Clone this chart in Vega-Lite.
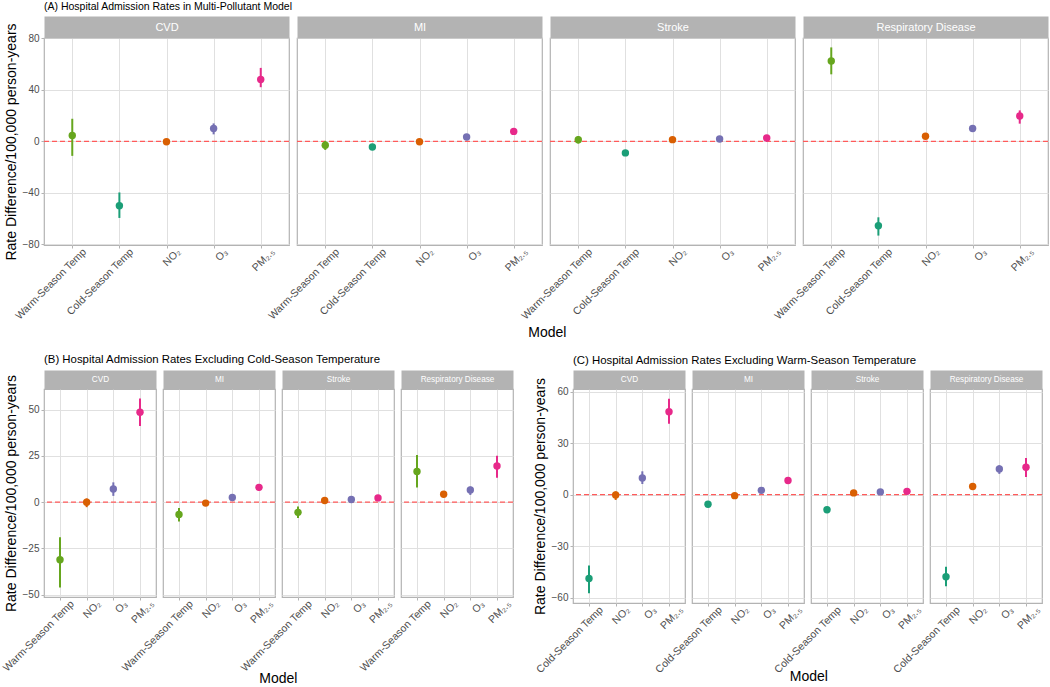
{
"$schema": "https://vega.github.io/schema/vega-lite/v6.json",
"padding": {"left": 0, "right": 2, "top": 1, "bottom": 0},
"background": "white",
"datasets": {
"rates": [
{"sec":"A","outcome":"CVD","model":"Warm-Season Temp","est":4.6,"lo":-11.3,"hi":17.5},
{"sec":"A","outcome":"CVD","model":"Cold-Season Temp","est":-50,"lo":-59.5,"hi":-39.7},
{"sec":"A","outcome":"CVD","model":"NO₂","est":-0.4,"lo":-2.5,"hi":1.7},
{"sec":"A","outcome":"CVD","model":"O₃","est":10,"lo":5.4,"hi":13.9},
{"sec":"A","outcome":"CVD","model":"PM₂.₅","est":48,"lo":42,"hi":57},
{"sec":"A","outcome":"MI","model":"Warm-Season Temp","est":-3.1,"lo":-6.7,"hi":0.3},
{"sec":"A","outcome":"MI","model":"Cold-Season Temp","est":-4.4,"lo":-5.8,"hi":-3.0},
{"sec":"A","outcome":"MI","model":"NO₂","est":-0.3,"lo":-1.5,"hi":0.9},
{"sec":"A","outcome":"MI","model":"O₃","est":3.4,"lo":1.8,"hi":5.0},
{"sec":"A","outcome":"MI","model":"PM₂.₅","est":7.7,"lo":6.2,"hi":9.2},
{"sec":"A","outcome":"Stroke","model":"Warm-Season Temp","est":1.3,"lo":-1.8,"hi":4.1},
{"sec":"A","outcome":"Stroke","model":"Cold-Season Temp","est":-9.0,"lo":-10.3,"hi":-7.7},
{"sec":"A","outcome":"Stroke","model":"NO₂","est":1.3,"lo":0.2,"hi":2.4},
{"sec":"A","outcome":"Stroke","model":"O₃","est":1.8,"lo":0.6,"hi":3.0},
{"sec":"A","outcome":"Stroke","model":"PM₂.₅","est":2.6,"lo":1.2,"hi":4.0},
{"sec":"A","outcome":"Respiratory Disease","model":"Warm-Season Temp","est":62.4,"lo":52,"hi":72.9},
{"sec":"A","outcome":"Respiratory Disease","model":"Cold-Season Temp","est":-65.5,"lo":-73.2,"hi":-59},
{"sec":"A","outcome":"Respiratory Disease","model":"NO₂","est":3.9,"lo":2.4,"hi":5.4},
{"sec":"A","outcome":"Respiratory Disease","model":"O₃","est":10,"lo":8.5,"hi":11.5},
{"sec":"A","outcome":"Respiratory Disease","model":"PM₂.₅","est":19.6,"lo":13.7,"hi":24},
{"sec":"B","outcome":"CVD","model":"Warm-Season Temp","est":-31.1,"lo":-46.1,"hi":-18.9},
{"sec":"B","outcome":"CVD","model":"NO₂","est":0,"lo":-2.7,"hi":2},
{"sec":"B","outcome":"CVD","model":"O₃","est":7.1,"lo":3.4,"hi":10.7},
{"sec":"B","outcome":"CVD","model":"PM₂.₅","est":48.6,"lo":41.1,"hi":56},
{"sec":"B","outcome":"MI","model":"Warm-Season Temp","est":-6.6,"lo":-10.4,"hi":-3.2},
{"sec":"B","outcome":"MI","model":"NO₂","est":-0.5,"lo":-1.8,"hi":0.8},
{"sec":"B","outcome":"MI","model":"O₃","est":2.5,"lo":1.2,"hi":3.8},
{"sec":"B","outcome":"MI","model":"PM₂.₅","est":8,"lo":6.3,"hi":9.6},
{"sec":"B","outcome":"Stroke","model":"Warm-Season Temp","est":-5.5,"lo":-8.6,"hi":-2.3},
{"sec":"B","outcome":"Stroke","model":"NO₂","est":0.9,"lo":-0.3,"hi":2.1},
{"sec":"B","outcome":"Stroke","model":"O₃","est":1.4,"lo":0.3,"hi":2.5},
{"sec":"B","outcome":"Stroke","model":"PM₂.₅","est":2.3,"lo":1.0,"hi":3.6},
{"sec":"B","outcome":"Respiratory Disease","model":"Warm-Season Temp","est":16.6,"lo":7.9,"hi":25.4},
{"sec":"B","outcome":"Respiratory Disease","model":"NO₂","est":4.3,"lo":3.0,"hi":5.6},
{"sec":"B","outcome":"Respiratory Disease","model":"O₃","est":6.6,"lo":3.9,"hi":8.4},
{"sec":"B","outcome":"Respiratory Disease","model":"PM₂.₅","est":19.5,"lo":13.2,"hi":25},
{"sec":"C","outcome":"CVD","model":"Cold-Season Temp","est":-48.9,"lo":-57.5,"hi":-41.3},
{"sec":"C","outcome":"CVD","model":"NO₂","est":-0.2,"lo":-3.1,"hi":1.9},
{"sec":"C","outcome":"CVD","model":"O₃","est":9.7,"lo":6.2,"hi":13.6},
{"sec":"C","outcome":"CVD","model":"PM₂.₅","est":48.3,"lo":41.3,"hi":55.9},
{"sec":"C","outcome":"MI","model":"Cold-Season Temp","est":-5.6,"lo":-7.0,"hi":-4.2},
{"sec":"C","outcome":"MI","model":"NO₂","est":-0.6,"lo":-1.8,"hi":0.6},
{"sec":"C","outcome":"MI","model":"O₃","est":2.5,"lo":1.2,"hi":3.8},
{"sec":"C","outcome":"MI","model":"PM₂.₅","est":8.2,"lo":6.9,"hi":9.5},
{"sec":"C","outcome":"Stroke","model":"Cold-Season Temp","est":-8.8,"lo":-10.2,"hi":-7.4},
{"sec":"C","outcome":"Stroke","model":"NO₂","est":1.0,"lo":-0.2,"hi":2.2},
{"sec":"C","outcome":"Stroke","model":"O₃","est":1.6,"lo":0.4,"hi":2.8},
{"sec":"C","outcome":"Stroke","model":"PM₂.₅","est":1.9,"lo":0.5,"hi":3.3},
{"sec":"C","outcome":"Respiratory Disease","model":"Cold-Season Temp","est":-47.9,"lo":-53.4,"hi":-42.1},
{"sec":"C","outcome":"Respiratory Disease","model":"NO₂","est":4.7,"lo":3.3,"hi":6.1},
{"sec":"C","outcome":"Respiratory Disease","model":"O₃","est":15,"lo":12.1,"hi":17.1},
{"sec":"C","outcome":"Respiratory Disease","model":"PM₂.₅","est":16,"lo":10.3,"hi":21.4}
],
"ref": [{"ref":0}]
},
"vconcat": [
{
"title": {"text": "(A) Hospital Admission Rates in Multi-Pollutant Model", "fontSize": 10.5, "offset": 8},
"spacing": 0,
"vconcat": [{
"title": {"text": "Model", "orient": "bottom", "anchor": "middle", "frame": "bounds", "dx": 21, "fontSize": 14, "offset": 4},
"spacing": 8,
"bounds": "flush",
"hconcat": [
{"width": 245, "height": 207, "resolve": {"axis": {"x": "independent"}}, "layer": [
{"data": {"name": "ref"}, "mark": {"type": "rule", "color": "#ff5a5a", "strokeDash": [5, 3], "strokeWidth": 1.3}, "encoding": {"y": {"field": "ref", "type": "quantitative", "scale": {"domain": [-80.5, 80.2], "nice": false, "zero": false}, "axis": {"title": "Rate Difference/100,000 person-years", "values": [-80,-60,-40,-20,0,20,40,60,80], "labelExpr": "datum.value % 40 === 0 ? datum.label : ''", "tickOpacity": {"condition": {"test": "datum.value % 40 === 0", "value": 1}, "value": 0}, "gridWidth": {"condition": {"test": "datum.value % 40 === 0", "value": 1}, "value": 0.6}}}}},
{"data": {"name": "rates"}, "transform": [{"filter": "datum.sec === 'A' && datum.outcome === 'CVD'"}], "mark": {"type": "rule", "strokeWidth": 2}, "encoding": {
"x": {"field": "model", "type": "nominal", "scale": {"type": "point", "domain": ["Warm-Season Temp","Cold-Season Temp","NO₂","O₃","PM₂.₅"], "padding": 0.6}, "axis": {"title": null, "labelAngle": -45, "labelAlign": "right", "labelBaseline": "middle", "labelOffset": 12, "labelFontSize": 10.5, "grid": true}},
"y": {"field": "lo", "type": "quantitative", "scale": {"domain": [-80.5, 80.2], "nice": false, "zero": false}},
"y2": {"field": "hi"},
"color": {"field": "model", "type": "nominal", "scale": {"domain": ["Warm-Season Temp","Cold-Season Temp","NO₂","O₃","PM₂.₅"], "range": ["#66a61e","#1b9e77","#d95f02","#7570b3","#e7298a"]}, "legend": null}}},
{"data": {"name": "rates"}, "transform": [{"filter": "datum.sec === 'A' && datum.outcome === 'CVD'"}], "mark": {"type": "point", "filled": true, "size": 55, "opacity": 1}, "encoding": {
"x": {"field": "model", "type": "nominal", "axis": {"orient": "top", "title": "CVD", "labels": false, "ticks": false, "grid": false, "domain": true, "domainColor": "#b3b3b3", "domainWidth": 22, "domainCap": "butt", "offset": 11, "titleColor": "white", "titleFontSize": 11, "titleBaseline": "middle", "titleY": 0}},
"y": {"field": "est", "type": "quantitative"},
"color": {"field": "model", "type": "nominal", "legend": null}}}
]},
{"width": 245, "height": 207, "resolve": {"axis": {"x": "independent"}}, "layer": [
{"data": {"name": "ref"}, "mark": {"type": "rule", "color": "#ff5a5a", "strokeDash": [5, 3], "strokeWidth": 1.3}, "encoding": {"y": {"field": "ref", "type": "quantitative", "scale": {"domain": [-80.5, 80.2], "nice": false, "zero": false}, "axis": {"title": null, "labels": false, "ticks": false, "values": [-80,-60,-40,-20,0,20,40,60,80], "gridWidth": {"condition": {"test": "datum.value % 40 === 0", "value": 1}, "value": 0.6}}}}},
{"data": {"name": "rates"}, "transform": [{"filter": "datum.sec === 'A' && datum.outcome === 'MI'"}], "mark": {"type": "rule", "strokeWidth": 2}, "encoding": {
"x": {"field": "model", "type": "nominal", "scale": {"type": "point", "domain": ["Warm-Season Temp","Cold-Season Temp","NO₂","O₃","PM₂.₅"], "padding": 0.6}, "axis": {"title": null, "labelAngle": -45, "labelAlign": "right", "labelBaseline": "middle", "labelOffset": 12, "labelFontSize": 10.5, "grid": true}},
"y": {"field": "lo", "type": "quantitative", "scale": {"domain": [-80.5, 80.2], "nice": false, "zero": false}},
"y2": {"field": "hi"},
"color": {"field": "model", "type": "nominal", "scale": {"domain": ["Warm-Season Temp","Cold-Season Temp","NO₂","O₃","PM₂.₅"], "range": ["#66a61e","#1b9e77","#d95f02","#7570b3","#e7298a"]}, "legend": null}}},
{"data": {"name": "rates"}, "transform": [{"filter": "datum.sec === 'A' && datum.outcome === 'MI'"}], "mark": {"type": "point", "filled": true, "size": 55, "opacity": 1}, "encoding": {
"x": {"field": "model", "type": "nominal", "axis": {"orient": "top", "title": "MI", "labels": false, "ticks": false, "grid": false, "domain": true, "domainColor": "#b3b3b3", "domainWidth": 22, "domainCap": "butt", "offset": 11, "titleColor": "white", "titleFontSize": 11, "titleBaseline": "middle", "titleY": 0}},
"y": {"field": "est", "type": "quantitative"},
"color": {"field": "model", "type": "nominal", "legend": null}}}
]},
{"width": 245, "height": 207, "resolve": {"axis": {"x": "independent"}}, "layer": [
{"data": {"name": "ref"}, "mark": {"type": "rule", "color": "#ff5a5a", "strokeDash": [5, 3], "strokeWidth": 1.3}, "encoding": {"y": {"field": "ref", "type": "quantitative", "scale": {"domain": [-80.5, 80.2], "nice": false, "zero": false}, "axis": {"title": null, "labels": false, "ticks": false, "values": [-80,-60,-40,-20,0,20,40,60,80], "gridWidth": {"condition": {"test": "datum.value % 40 === 0", "value": 1}, "value": 0.6}}}}},
{"data": {"name": "rates"}, "transform": [{"filter": "datum.sec === 'A' && datum.outcome === 'Stroke'"}], "mark": {"type": "rule", "strokeWidth": 2}, "encoding": {
"x": {"field": "model", "type": "nominal", "scale": {"type": "point", "domain": ["Warm-Season Temp","Cold-Season Temp","NO₂","O₃","PM₂.₅"], "padding": 0.6}, "axis": {"title": null, "labelAngle": -45, "labelAlign": "right", "labelBaseline": "middle", "labelOffset": 12, "labelFontSize": 10.5, "grid": true}},
"y": {"field": "lo", "type": "quantitative", "scale": {"domain": [-80.5, 80.2], "nice": false, "zero": false}},
"y2": {"field": "hi"},
"color": {"field": "model", "type": "nominal", "scale": {"domain": ["Warm-Season Temp","Cold-Season Temp","NO₂","O₃","PM₂.₅"], "range": ["#66a61e","#1b9e77","#d95f02","#7570b3","#e7298a"]}, "legend": null}}},
{"data": {"name": "rates"}, "transform": [{"filter": "datum.sec === 'A' && datum.outcome === 'Stroke'"}], "mark": {"type": "point", "filled": true, "size": 55, "opacity": 1}, "encoding": {
"x": {"field": "model", "type": "nominal", "axis": {"orient": "top", "title": "Stroke", "labels": false, "ticks": false, "grid": false, "domain": true, "domainColor": "#b3b3b3", "domainWidth": 22, "domainCap": "butt", "offset": 11, "titleColor": "white", "titleFontSize": 11, "titleBaseline": "middle", "titleY": 0}},
"y": {"field": "est", "type": "quantitative"},
"color": {"field": "model", "type": "nominal", "legend": null}}}
]},
{"width": 245, "height": 207, "resolve": {"axis": {"x": "independent"}}, "layer": [
{"data": {"name": "ref"}, "mark": {"type": "rule", "color": "#ff5a5a", "strokeDash": [5, 3], "strokeWidth": 1.3}, "encoding": {"y": {"field": "ref", "type": "quantitative", "scale": {"domain": [-80.5, 80.2], "nice": false, "zero": false}, "axis": {"title": null, "labels": false, "ticks": false, "values": [-80,-60,-40,-20,0,20,40,60,80], "gridWidth": {"condition": {"test": "datum.value % 40 === 0", "value": 1}, "value": 0.6}}}}},
{"data": {"name": "rates"}, "transform": [{"filter": "datum.sec === 'A' && datum.outcome === 'Respiratory Disease'"}], "mark": {"type": "rule", "strokeWidth": 2}, "encoding": {
"x": {"field": "model", "type": "nominal", "scale": {"type": "point", "domain": ["Warm-Season Temp","Cold-Season Temp","NO₂","O₃","PM₂.₅"], "padding": 0.6}, "axis": {"title": null, "labelAngle": -45, "labelAlign": "right", "labelBaseline": "middle", "labelOffset": 12, "labelFontSize": 10.5, "grid": true}},
"y": {"field": "lo", "type": "quantitative", "scale": {"domain": [-80.5, 80.2], "nice": false, "zero": false}},
"y2": {"field": "hi"},
"color": {"field": "model", "type": "nominal", "scale": {"domain": ["Warm-Season Temp","Cold-Season Temp","NO₂","O₃","PM₂.₅"], "range": ["#66a61e","#1b9e77","#d95f02","#7570b3","#e7298a"]}, "legend": null}}},
{"data": {"name": "rates"}, "transform": [{"filter": "datum.sec === 'A' && datum.outcome === 'Respiratory Disease'"}], "mark": {"type": "point", "filled": true, "size": 55, "opacity": 1}, "encoding": {
"x": {"field": "model", "type": "nominal", "axis": {"orient": "top", "title": "Respiratory Disease", "labels": false, "ticks": false, "grid": false, "domain": true, "domainColor": "#b3b3b3", "domainWidth": 22, "domainCap": "butt", "offset": 11, "titleColor": "white", "titleFontSize": 11, "titleBaseline": "middle", "titleY": 0}},
"y": {"field": "est", "type": "quantitative"},
"color": {"field": "model", "type": "nominal", "legend": null}}}
]}
]
}]
},
{
"spacing": 17,
"hconcat": [
{
"title": {"text": "(B) Hospital Admission Rates Excluding Cold-Season Temperature", "fontSize": 11.4, "offset": 8},
"spacing": 0,
"vconcat": [{
"title": {"text": "Model", "orient": "bottom", "anchor": "middle", "frame": "bounds", "dx": 21, "fontSize": 14, "offset": -2},
"spacing": 7,
"bounds": "flush",
"hconcat": [
{"width": 112, "height": 208, "resolve": {"axis": {"x": "independent"}}, "layer": [
{"data": {"name": "ref"}, "mark": {"type": "rule", "color": "#ff5a5a", "strokeDash": [5, 3], "strokeWidth": 1.3}, "encoding": {"y": {"field": "ref", "type": "quantitative", "scale": {"domain": [-51.2, 61.1], "nice": false, "zero": false}, "axis": {"title": "Rate Difference/100,000 person-years", "values": [-50,-37.5,-25,-12.5,0,12.5,25,37.5,50], "labelExpr": "datum.value % 25 === 0 ? datum.label : ''", "tickOpacity": {"condition": {"test": "datum.value % 25 === 0", "value": 1}, "value": 0}, "gridWidth": {"condition": {"test": "datum.value % 25 === 0", "value": 1}, "value": 0.6}}}}},
{"data": {"name": "rates"}, "transform": [{"filter": "datum.sec === 'B' && datum.outcome === 'CVD'"}], "mark": {"type": "rule", "strokeWidth": 2}, "encoding": {
"x": {"field": "model", "type": "nominal", "scale": {"type": "point", "domain": ["Warm-Season Temp","NO₂","O₃","PM₂.₅"], "padding": 0.6}, "axis": {"title": null, "labelAngle": -45, "labelAlign": "right", "labelBaseline": "middle", "labelOffset": 12, "labelFontSize": 10.5, "grid": true}},
"y": {"field": "lo", "type": "quantitative", "scale": {"domain": [-51.2, 61.1], "nice": false, "zero": false}},
"y2": {"field": "hi"},
"color": {"field": "model", "type": "nominal", "scale": {"domain": ["Warm-Season Temp","Cold-Season Temp","NO₂","O₃","PM₂.₅"], "range": ["#66a61e","#1b9e77","#d95f02","#7570b3","#e7298a"]}, "legend": null}}},
{"data": {"name": "rates"}, "transform": [{"filter": "datum.sec === 'B' && datum.outcome === 'CVD'"}], "mark": {"type": "point", "filled": true, "size": 55, "opacity": 1}, "encoding": {
"x": {"field": "model", "type": "nominal", "axis": {"orient": "top", "title": "CVD", "labels": false, "ticks": false, "grid": false, "domain": true, "domainColor": "#b3b3b3", "domainWidth": 19, "domainCap": "butt", "offset": 9.5, "titleColor": "white", "titleFontSize": 8.2, "titleBaseline": "middle", "titleY": 0}},
"y": {"field": "est", "type": "quantitative"},
"color": {"field": "model", "type": "nominal", "legend": null}}}
]},
{"width": 112, "height": 208, "resolve": {"axis": {"x": "independent"}}, "layer": [
{"data": {"name": "ref"}, "mark": {"type": "rule", "color": "#ff5a5a", "strokeDash": [5, 3], "strokeWidth": 1.3}, "encoding": {"y": {"field": "ref", "type": "quantitative", "scale": {"domain": [-51.2, 61.1], "nice": false, "zero": false}, "axis": {"title": null, "labels": false, "ticks": false, "values": [-50,-37.5,-25,-12.5,0,12.5,25,37.5,50], "gridWidth": {"condition": {"test": "datum.value % 25 === 0", "value": 1}, "value": 0.6}}}}},
{"data": {"name": "rates"}, "transform": [{"filter": "datum.sec === 'B' && datum.outcome === 'MI'"}], "mark": {"type": "rule", "strokeWidth": 2}, "encoding": {
"x": {"field": "model", "type": "nominal", "scale": {"type": "point", "domain": ["Warm-Season Temp","NO₂","O₃","PM₂.₅"], "padding": 0.6}, "axis": {"title": null, "labelAngle": -45, "labelAlign": "right", "labelBaseline": "middle", "labelOffset": 12, "labelFontSize": 10.5, "grid": true}},
"y": {"field": "lo", "type": "quantitative", "scale": {"domain": [-51.2, 61.1], "nice": false, "zero": false}},
"y2": {"field": "hi"},
"color": {"field": "model", "type": "nominal", "scale": {"domain": ["Warm-Season Temp","Cold-Season Temp","NO₂","O₃","PM₂.₅"], "range": ["#66a61e","#1b9e77","#d95f02","#7570b3","#e7298a"]}, "legend": null}}},
{"data": {"name": "rates"}, "transform": [{"filter": "datum.sec === 'B' && datum.outcome === 'MI'"}], "mark": {"type": "point", "filled": true, "size": 55, "opacity": 1}, "encoding": {
"x": {"field": "model", "type": "nominal", "axis": {"orient": "top", "title": "MI", "labels": false, "ticks": false, "grid": false, "domain": true, "domainColor": "#b3b3b3", "domainWidth": 19, "domainCap": "butt", "offset": 9.5, "titleColor": "white", "titleFontSize": 8.2, "titleBaseline": "middle", "titleY": 0}},
"y": {"field": "est", "type": "quantitative"},
"color": {"field": "model", "type": "nominal", "legend": null}}}
]},
{"width": 112, "height": 208, "resolve": {"axis": {"x": "independent"}}, "layer": [
{"data": {"name": "ref"}, "mark": {"type": "rule", "color": "#ff5a5a", "strokeDash": [5, 3], "strokeWidth": 1.3}, "encoding": {"y": {"field": "ref", "type": "quantitative", "scale": {"domain": [-51.2, 61.1], "nice": false, "zero": false}, "axis": {"title": null, "labels": false, "ticks": false, "values": [-50,-37.5,-25,-12.5,0,12.5,25,37.5,50], "gridWidth": {"condition": {"test": "datum.value % 25 === 0", "value": 1}, "value": 0.6}}}}},
{"data": {"name": "rates"}, "transform": [{"filter": "datum.sec === 'B' && datum.outcome === 'Stroke'"}], "mark": {"type": "rule", "strokeWidth": 2}, "encoding": {
"x": {"field": "model", "type": "nominal", "scale": {"type": "point", "domain": ["Warm-Season Temp","NO₂","O₃","PM₂.₅"], "padding": 0.6}, "axis": {"title": null, "labelAngle": -45, "labelAlign": "right", "labelBaseline": "middle", "labelOffset": 12, "labelFontSize": 10.5, "grid": true}},
"y": {"field": "lo", "type": "quantitative", "scale": {"domain": [-51.2, 61.1], "nice": false, "zero": false}},
"y2": {"field": "hi"},
"color": {"field": "model", "type": "nominal", "scale": {"domain": ["Warm-Season Temp","Cold-Season Temp","NO₂","O₃","PM₂.₅"], "range": ["#66a61e","#1b9e77","#d95f02","#7570b3","#e7298a"]}, "legend": null}}},
{"data": {"name": "rates"}, "transform": [{"filter": "datum.sec === 'B' && datum.outcome === 'Stroke'"}], "mark": {"type": "point", "filled": true, "size": 55, "opacity": 1}, "encoding": {
"x": {"field": "model", "type": "nominal", "axis": {"orient": "top", "title": "Stroke", "labels": false, "ticks": false, "grid": false, "domain": true, "domainColor": "#b3b3b3", "domainWidth": 19, "domainCap": "butt", "offset": 9.5, "titleColor": "white", "titleFontSize": 8.2, "titleBaseline": "middle", "titleY": 0}},
"y": {"field": "est", "type": "quantitative"},
"color": {"field": "model", "type": "nominal", "legend": null}}}
]},
{"width": 112, "height": 208, "resolve": {"axis": {"x": "independent"}}, "layer": [
{"data": {"name": "ref"}, "mark": {"type": "rule", "color": "#ff5a5a", "strokeDash": [5, 3], "strokeWidth": 1.3}, "encoding": {"y": {"field": "ref", "type": "quantitative", "scale": {"domain": [-51.2, 61.1], "nice": false, "zero": false}, "axis": {"title": null, "labels": false, "ticks": false, "values": [-50,-37.5,-25,-12.5,0,12.5,25,37.5,50], "gridWidth": {"condition": {"test": "datum.value % 25 === 0", "value": 1}, "value": 0.6}}}}},
{"data": {"name": "rates"}, "transform": [{"filter": "datum.sec === 'B' && datum.outcome === 'Respiratory Disease'"}], "mark": {"type": "rule", "strokeWidth": 2}, "encoding": {
"x": {"field": "model", "type": "nominal", "scale": {"type": "point", "domain": ["Warm-Season Temp","NO₂","O₃","PM₂.₅"], "padding": 0.6}, "axis": {"title": null, "labelAngle": -45, "labelAlign": "right", "labelBaseline": "middle", "labelOffset": 12, "labelFontSize": 10.5, "grid": true}},
"y": {"field": "lo", "type": "quantitative", "scale": {"domain": [-51.2, 61.1], "nice": false, "zero": false}},
"y2": {"field": "hi"},
"color": {"field": "model", "type": "nominal", "scale": {"domain": ["Warm-Season Temp","Cold-Season Temp","NO₂","O₃","PM₂.₅"], "range": ["#66a61e","#1b9e77","#d95f02","#7570b3","#e7298a"]}, "legend": null}}},
{"data": {"name": "rates"}, "transform": [{"filter": "datum.sec === 'B' && datum.outcome === 'Respiratory Disease'"}], "mark": {"type": "point", "filled": true, "size": 55, "opacity": 1}, "encoding": {
"x": {"field": "model", "type": "nominal", "axis": {"orient": "top", "title": "Respiratory Disease", "labels": false, "ticks": false, "grid": false, "domain": true, "domainColor": "#b3b3b3", "domainWidth": 19, "domainCap": "butt", "offset": 9.5, "titleColor": "white", "titleFontSize": 8.2, "titleBaseline": "middle", "titleY": 0}},
"y": {"field": "est", "type": "quantitative"},
"color": {"field": "model", "type": "nominal", "legend": null}}}
]}
]
}]
},
{
"title": {"text": "(C) Hospital Admission Rates Excluding Warm-Season Temperature", "fontSize": 11.4, "offset": 8},
"spacing": 0,
"vconcat": [{
"title": {"text": "Model", "orient": "bottom", "anchor": "middle", "frame": "bounds", "dx": 21, "fontSize": 14, "offset": -6},
"spacing": 7,
"bounds": "flush",
"hconcat": [
{"width": 112, "height": 214, "resolve": {"axis": {"x": "independent"}}, "layer": [
{"data": {"name": "ref"}, "mark": {"type": "rule", "color": "#ff5a5a", "strokeDash": [5, 3], "strokeWidth": 1.3}, "encoding": {"y": {"field": "ref", "type": "quantitative", "scale": {"domain": [-63.2, 61.6], "nice": false, "zero": false}, "axis": {"title": "Rate Difference/100,000 person-years", "values": [-60,-45,-30,-15,0,15,30,45,60], "labelExpr": "datum.value % 30 === 0 ? datum.label : ''", "tickOpacity": {"condition": {"test": "datum.value % 30 === 0", "value": 1}, "value": 0}, "gridWidth": {"condition": {"test": "datum.value % 30 === 0", "value": 1}, "value": 0.6}}}}},
{"data": {"name": "rates"}, "transform": [{"filter": "datum.sec === 'C' && datum.outcome === 'CVD'"}], "mark": {"type": "rule", "strokeWidth": 2}, "encoding": {
"x": {"field": "model", "type": "nominal", "scale": {"type": "point", "domain": ["Cold-Season Temp","NO₂","O₃","PM₂.₅"], "padding": 0.6}, "axis": {"title": null, "labelAngle": -45, "labelAlign": "right", "labelBaseline": "middle", "labelOffset": 12, "labelFontSize": 10.5, "grid": true}},
"y": {"field": "lo", "type": "quantitative", "scale": {"domain": [-63.2, 61.6], "nice": false, "zero": false}},
"y2": {"field": "hi"},
"color": {"field": "model", "type": "nominal", "scale": {"domain": ["Warm-Season Temp","Cold-Season Temp","NO₂","O₃","PM₂.₅"], "range": ["#66a61e","#1b9e77","#d95f02","#7570b3","#e7298a"]}, "legend": null}}},
{"data": {"name": "rates"}, "transform": [{"filter": "datum.sec === 'C' && datum.outcome === 'CVD'"}], "mark": {"type": "point", "filled": true, "size": 55, "opacity": 1}, "encoding": {
"x": {"field": "model", "type": "nominal", "axis": {"orient": "top", "title": "CVD", "labels": false, "ticks": false, "grid": false, "domain": true, "domainColor": "#b3b3b3", "domainWidth": 19, "domainCap": "butt", "offset": 9.5, "titleColor": "white", "titleFontSize": 8.2, "titleBaseline": "middle", "titleY": 0}},
"y": {"field": "est", "type": "quantitative"},
"color": {"field": "model", "type": "nominal", "legend": null}}}
]},
{"width": 112, "height": 214, "resolve": {"axis": {"x": "independent"}}, "layer": [
{"data": {"name": "ref"}, "mark": {"type": "rule", "color": "#ff5a5a", "strokeDash": [5, 3], "strokeWidth": 1.3}, "encoding": {"y": {"field": "ref", "type": "quantitative", "scale": {"domain": [-63.2, 61.6], "nice": false, "zero": false}, "axis": {"title": null, "labels": false, "ticks": false, "values": [-60,-45,-30,-15,0,15,30,45,60], "gridWidth": {"condition": {"test": "datum.value % 30 === 0", "value": 1}, "value": 0.6}}}}},
{"data": {"name": "rates"}, "transform": [{"filter": "datum.sec === 'C' && datum.outcome === 'MI'"}], "mark": {"type": "rule", "strokeWidth": 2}, "encoding": {
"x": {"field": "model", "type": "nominal", "scale": {"type": "point", "domain": ["Cold-Season Temp","NO₂","O₃","PM₂.₅"], "padding": 0.6}, "axis": {"title": null, "labelAngle": -45, "labelAlign": "right", "labelBaseline": "middle", "labelOffset": 12, "labelFontSize": 10.5, "grid": true}},
"y": {"field": "lo", "type": "quantitative", "scale": {"domain": [-63.2, 61.6], "nice": false, "zero": false}},
"y2": {"field": "hi"},
"color": {"field": "model", "type": "nominal", "scale": {"domain": ["Warm-Season Temp","Cold-Season Temp","NO₂","O₃","PM₂.₅"], "range": ["#66a61e","#1b9e77","#d95f02","#7570b3","#e7298a"]}, "legend": null}}},
{"data": {"name": "rates"}, "transform": [{"filter": "datum.sec === 'C' && datum.outcome === 'MI'"}], "mark": {"type": "point", "filled": true, "size": 55, "opacity": 1}, "encoding": {
"x": {"field": "model", "type": "nominal", "axis": {"orient": "top", "title": "MI", "labels": false, "ticks": false, "grid": false, "domain": true, "domainColor": "#b3b3b3", "domainWidth": 19, "domainCap": "butt", "offset": 9.5, "titleColor": "white", "titleFontSize": 8.2, "titleBaseline": "middle", "titleY": 0}},
"y": {"field": "est", "type": "quantitative"},
"color": {"field": "model", "type": "nominal", "legend": null}}}
]},
{"width": 112, "height": 214, "resolve": {"axis": {"x": "independent"}}, "layer": [
{"data": {"name": "ref"}, "mark": {"type": "rule", "color": "#ff5a5a", "strokeDash": [5, 3], "strokeWidth": 1.3}, "encoding": {"y": {"field": "ref", "type": "quantitative", "scale": {"domain": [-63.2, 61.6], "nice": false, "zero": false}, "axis": {"title": null, "labels": false, "ticks": false, "values": [-60,-45,-30,-15,0,15,30,45,60], "gridWidth": {"condition": {"test": "datum.value % 30 === 0", "value": 1}, "value": 0.6}}}}},
{"data": {"name": "rates"}, "transform": [{"filter": "datum.sec === 'C' && datum.outcome === 'Stroke'"}], "mark": {"type": "rule", "strokeWidth": 2}, "encoding": {
"x": {"field": "model", "type": "nominal", "scale": {"type": "point", "domain": ["Cold-Season Temp","NO₂","O₃","PM₂.₅"], "padding": 0.6}, "axis": {"title": null, "labelAngle": -45, "labelAlign": "right", "labelBaseline": "middle", "labelOffset": 12, "labelFontSize": 10.5, "grid": true}},
"y": {"field": "lo", "type": "quantitative", "scale": {"domain": [-63.2, 61.6], "nice": false, "zero": false}},
"y2": {"field": "hi"},
"color": {"field": "model", "type": "nominal", "scale": {"domain": ["Warm-Season Temp","Cold-Season Temp","NO₂","O₃","PM₂.₅"], "range": ["#66a61e","#1b9e77","#d95f02","#7570b3","#e7298a"]}, "legend": null}}},
{"data": {"name": "rates"}, "transform": [{"filter": "datum.sec === 'C' && datum.outcome === 'Stroke'"}], "mark": {"type": "point", "filled": true, "size": 55, "opacity": 1}, "encoding": {
"x": {"field": "model", "type": "nominal", "axis": {"orient": "top", "title": "Stroke", "labels": false, "ticks": false, "grid": false, "domain": true, "domainColor": "#b3b3b3", "domainWidth": 19, "domainCap": "butt", "offset": 9.5, "titleColor": "white", "titleFontSize": 8.2, "titleBaseline": "middle", "titleY": 0}},
"y": {"field": "est", "type": "quantitative"},
"color": {"field": "model", "type": "nominal", "legend": null}}}
]},
{"width": 112, "height": 214, "resolve": {"axis": {"x": "independent"}}, "layer": [
{"data": {"name": "ref"}, "mark": {"type": "rule", "color": "#ff5a5a", "strokeDash": [5, 3], "strokeWidth": 1.3}, "encoding": {"y": {"field": "ref", "type": "quantitative", "scale": {"domain": [-63.2, 61.6], "nice": false, "zero": false}, "axis": {"title": null, "labels": false, "ticks": false, "values": [-60,-45,-30,-15,0,15,30,45,60], "gridWidth": {"condition": {"test": "datum.value % 30 === 0", "value": 1}, "value": 0.6}}}}},
{"data": {"name": "rates"}, "transform": [{"filter": "datum.sec === 'C' && datum.outcome === 'Respiratory Disease'"}], "mark": {"type": "rule", "strokeWidth": 2}, "encoding": {
"x": {"field": "model", "type": "nominal", "scale": {"type": "point", "domain": ["Cold-Season Temp","NO₂","O₃","PM₂.₅"], "padding": 0.6}, "axis": {"title": null, "labelAngle": -45, "labelAlign": "right", "labelBaseline": "middle", "labelOffset": 12, "labelFontSize": 10.5, "grid": true}},
"y": {"field": "lo", "type": "quantitative", "scale": {"domain": [-63.2, 61.6], "nice": false, "zero": false}},
"y2": {"field": "hi"},
"color": {"field": "model", "type": "nominal", "scale": {"domain": ["Warm-Season Temp","Cold-Season Temp","NO₂","O₃","PM₂.₅"], "range": ["#66a61e","#1b9e77","#d95f02","#7570b3","#e7298a"]}, "legend": null}}},
{"data": {"name": "rates"}, "transform": [{"filter": "datum.sec === 'C' && datum.outcome === 'Respiratory Disease'"}], "mark": {"type": "point", "filled": true, "size": 55, "opacity": 1}, "encoding": {
"x": {"field": "model", "type": "nominal", "axis": {"orient": "top", "title": "Respiratory Disease", "labels": false, "ticks": false, "grid": false, "domain": true, "domainColor": "#b3b3b3", "domainWidth": 19, "domainCap": "butt", "offset": 9.5, "titleColor": "white", "titleFontSize": 8.2, "titleBaseline": "middle", "titleY": 0}},
"y": {"field": "est", "type": "quantitative"},
"color": {"field": "model", "type": "nominal", "legend": null}}}
]}
]
}]
}
]
}
],
"spacing": 14,
"config": {
"font": "Liberation Sans",
"view": {"stroke": "#b3b3b3", "strokeWidth": 1.2},
"title": {"fontSize": 11, "fontWeight": "normal", "anchor": "start", "frame": "group", "color": "#000000", "offset": 3},
"axis": {"labelFontSize": 10, "labelColor": "#4d4d4d", "tickColor": "#b3b3b3", "tickSize": 3, "domain": false, "gridColor": "#e0e0e0", "titleFontSize": 14, "titleFontWeight": "normal", "titleColor": "#000000", "labelPadding": 2, "titlePadding": 4, "labelOverlap": false, "labelFont": "Liberation Sans", "titleFont": "Liberation Sans"}
}
}
